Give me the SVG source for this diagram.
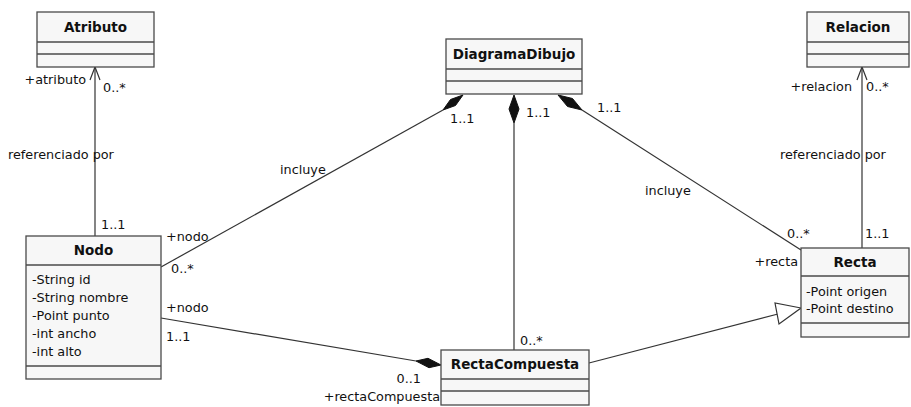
<svg xmlns="http://www.w3.org/2000/svg" width="911" height="407" viewBox="0 0 911 407">
<style>
.box{fill:#f7f7f7;stroke:#4a4a4a;stroke-width:1.3}
.sep{stroke:#4a4a4a;stroke-width:1.3}
.title{font-family:"DejaVu Sans",sans-serif;font-size:13.5px;font-weight:bold;fill:#111;text-anchor:middle}
.attr{font-family:"DejaVu Sans",sans-serif;font-size:12.8px;fill:#111}
.lbl{font-family:"DejaVu Sans",sans-serif;font-size:12.8px;fill:#111}
.end{text-anchor:end}
.edge{stroke:#333;stroke-width:1.2;fill:none}
.dia{fill:#111;stroke:#111;stroke-width:1}
</style>
<rect width="911" height="407" fill="#ffffff"/>
<g id="connectors">
  <line class="edge" x1="95" y1="67" x2="95" y2="236"/>
  <polyline class="edge" points="90,80 95,67 100,80"/>
  <line class="edge" x1="862" y1="67" x2="862" y2="248"/>
  <polyline class="edge" points="857,80 862,67 867,80"/>
  <line class="edge" x1="161" y1="267" x2="443" y2="110"/>
  <polygon class="dia" points="463,95 455.5,105.5 443,110 450.5,99.5"/>
  <line class="edge" x1="514" y1="123" x2="514" y2="350"/>
  <polygon class="dia" points="514,95 519,109 514,123 509,109"/>
  <line class="edge" x1="582" y1="110" x2="801" y2="250"/>
  <polygon class="dia" points="558,95 572.5,98.5 582,110 567.5,106.5"/>
  <line class="edge" x1="161" y1="318" x2="416" y2="361"/>
  <polygon class="dia" points="441,365 429,367.7 416,361 428,358.3"/>
  <line class="edge" x1="589" y1="363" x2="778" y2="314"/>
  <polygon points="801,308 775,303 779,324" fill="#ffffff" stroke="#333" stroke-width="1.2"/>
</g>
<g id="Atributo">
  <rect class="box" x="37" y="12" width="117" height="55"/>
  <line class="sep" x1="37" y1="42" x2="154" y2="42"/>
  <line class="sep" x1="37" y1="54" x2="154" y2="54"/>
  <text class="title" x="95.5" y="32">Atributo</text>
</g>
<g id="DiagramaDibujo">
  <rect class="box" x="446" y="39" width="136" height="55"/>
  <line class="sep" x1="446" y1="69" x2="582" y2="69"/>
  <line class="sep" x1="446" y1="81" x2="582" y2="81"/>
  <text class="title" x="514" y="59">DiagramaDibujo</text>
</g>
<g id="Relacion">
  <rect class="box" x="807" y="12" width="102" height="55"/>
  <line class="sep" x1="807" y1="42" x2="909" y2="42"/>
  <line class="sep" x1="807" y1="54" x2="909" y2="54"/>
  <text class="title" x="858" y="32">Relacion</text>
</g>
<g id="Nodo">
  <rect class="box" x="26" y="236" width="135" height="143"/>
  <line class="sep" x1="26" y1="265" x2="161" y2="265"/>
  <line class="sep" x1="26" y1="366" x2="161" y2="366"/>
  <text class="title" x="93.5" y="255">Nodo</text>
  <text class="attr" x="32" y="284">-String id</text>
  <text class="attr" x="32" y="302">-String nombre</text>
  <text class="attr" x="32" y="320">-Point punto</text>
  <text class="attr" x="32" y="338">-int ancho</text>
  <text class="attr" x="32" y="356">-int alto</text>
</g>
<g id="RectaCompuesta">
  <rect class="box" x="441" y="350" width="148" height="55"/>
  <line class="sep" x1="441" y1="379" x2="589" y2="379"/>
  <line class="sep" x1="441" y1="391" x2="589" y2="391"/>
  <text class="title" x="515" y="369">RectaCompuesta</text>
</g>
<g id="Recta">
  <rect class="box" x="801" y="248" width="108" height="89"/>
  <line class="sep" x1="801" y1="276" x2="909" y2="276"/>
  <line class="sep" x1="801" y1="323" x2="909" y2="323"/>
  <text class="title" x="855" y="267">Recta</text>
  <text class="attr" x="806" y="296">-Point origen</text>
  <text class="attr" x="806" y="313">-Point destino</text>
</g>
<g id="labels">
  <text class="lbl end" x="86" y="84">+atributo</text>
  <text class="lbl" x="103" y="92">0..*</text>
  <text class="lbl" x="8" y="159">referenciado por</text>
  <text class="lbl" x="101" y="229">1..1</text>
  <text class="lbl" x="166" y="241">+nodo</text>
  <text class="lbl" x="171" y="273">0..*</text>
  <text class="lbl" x="166" y="312">+nodo</text>
  <text class="lbl" x="166" y="341">1..1</text>
  <text class="lbl" x="280" y="174">incluye</text>
  <text class="lbl" x="450" y="123">1..1</text>
  <text class="lbl" x="526" y="117">1..1</text>
  <text class="lbl" x="597" y="112">1..1</text>
  <text class="lbl" x="645" y="195">incluye</text>
  <text class="lbl end" x="852" y="91">+relacion</text>
  <text class="lbl" x="866" y="91">0..*</text>
  <text class="lbl" x="780" y="159">referenciado por</text>
  <text class="lbl" x="787" y="238">0..*</text>
  <text class="lbl" x="865" y="238">1..1</text>
  <text class="lbl end" x="798" y="266">+recta</text>
  <text class="lbl" x="520" y="345">0..*</text>
  <text class="lbl end" x="421" y="383">0..1</text>
  <text class="lbl end" x="440" y="401">+rectaCompuesta</text>
</g>
</svg>
